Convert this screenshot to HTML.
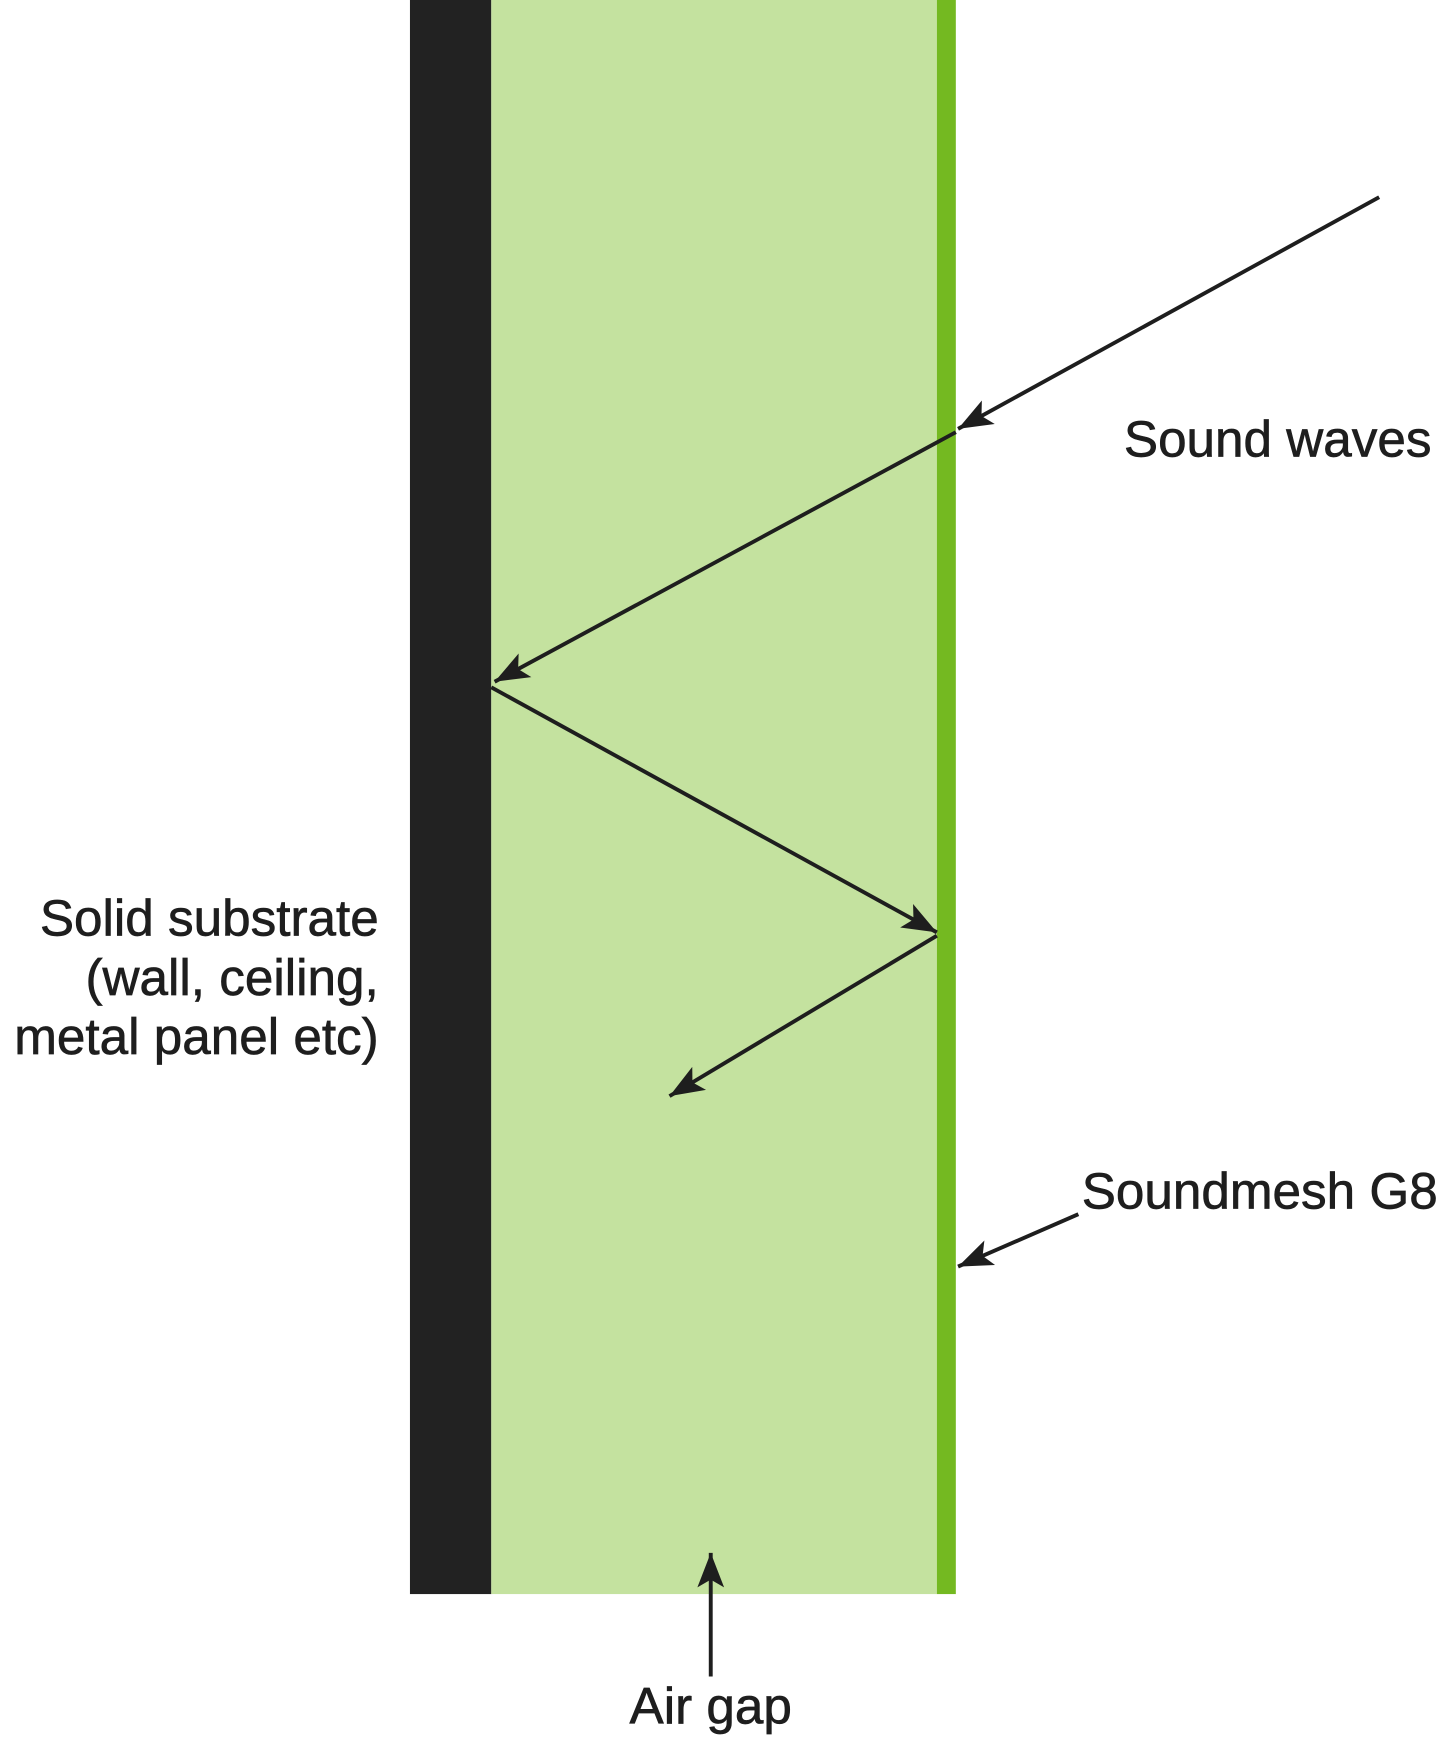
<!DOCTYPE html>
<html><head><meta charset="utf-8"><style>
html,body{margin:0;padding:0;background:#fff;}
svg{display:block;}
text{font-family:"Liberation Sans",Arial,sans-serif;fill:#1e1e1e;font-size:46px;stroke:#1e1e1e;stroke-width:0.6px;}
</style></head><body>
<svg width="1449" height="1737" viewBox="0 0 1300.7 1559.3" preserveAspectRatio="none" xmlns="http://www.w3.org/2000/svg">
<defs>
<marker id="ah" markerUnits="userSpaceOnUse" markerWidth="36" markerHeight="36" viewBox="0 0 36 36" refX="33" refY="18" orient="auto">
<path d="M33,18 L2,6 L9,18 L2,30 Z" fill="#1e1e1e"/>
</marker>
</defs>
<g transform="translate(-2,-3)">
<rect x="370" y="0" width="73" height="1434" fill="#222"/>
<rect x="443" y="0" width="400" height="1434" fill="#c4e29f"/>
<rect x="843" y="0" width="17" height="1434" fill="#74b921"/>
<g stroke="#1e1e1e" stroke-width="3.5" fill="none" marker-end="url(#ah)">
<line x1="1240" y1="180" x2="862" y2="388"/>
<line x1="860" y1="391" x2="446" y2="615"/>
<line x1="443" y1="620" x2="843" y2="840"/>
<line x1="843" y1="843" x2="603" y2="987"/>
<line x1="970" y1="1093" x2="862" y2="1140"/>
<line x1="640" y1="1508" x2="640" y2="1397"/>
</g>
<text x="1287" y="413" text-anchor="end">Sound waves</text>
<text x="342" y="843" text-anchor="end">Solid substrate</text>
<text x="342" y="896" text-anchor="end">(wall, ceiling,</text>
<text x="342" y="949" text-anchor="end">metal panel etc)</text>
<text x="973" y="1088">Soundmesh G8</text>
<text x="640" y="1550" text-anchor="middle">Air gap</text>
</g>
</svg>
</body></html>
